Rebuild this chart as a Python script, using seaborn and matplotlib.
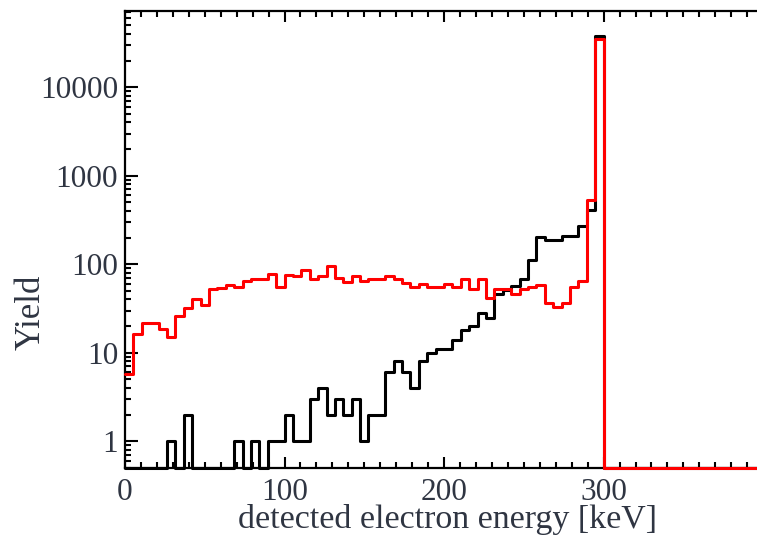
import numpy as np
import pandas as pd
import matplotlib
matplotlib.use("Agg")
import matplotlib.pyplot as plt
import seaborn as sns
from matplotlib.ticker import MultipleLocator, LogLocator, NullFormatter, FixedLocator, FixedFormatter

# ---- data: 76 bins of equal width spanning 0-400 keV ----
E_MIN, E_MAX, N_BINS = 0.0, 400.0, 76

red_counts = [5.8, 16.4, 21.5, 21.5, 18.5, 15, 26, 32, 40, 35,
              52, 54, 59, 55, 64, 68, 68, 77, 55, 76,
              73, 85, 68, 73, 96, 69, 63, 73, 65, 68,
              68, 73, 68, 61, 55, 60, 55, 55, 60, 56,
              68, 53, 68, 42, 53, 53, 46, 53, 56, 59,
              36, 33, 36, 56, 64, 530, 35000, 0, 0, 0,
              0, 0, 0, 0, 0, 0, 0, 0, 0, 0,
              0, 0, 0, 0, 0, 0]

black_counts = [0, 0, 0, 0, 0, 1, 0, 2, 0, 0,
                0, 0, 0, 1, 0, 1, 0, 1, 1, 2,
                1, 1, 3, 4, 2, 3, 2, 3, 1, 2,
                2, 6, 8, 6, 4, 8, 10, 11, 11, 14,
                18, 20, 28, 25, 46, 51, 57, 68, 112, 203,
                189, 189, 206, 206, 267, 405, 37500, 0, 0, 0,
                0, 0, 0, 0, 0, 0, 0, 0, 0, 0,
                0, 0, 0, 0, 0, 0]

y_tick_values = [1, 10, 100, 1000, 10000]
y_tick_labels = ["1", "10", "100", "1000", "10000"]
x_tick_values = [0, 100, 200, 300]
x_tick_labels = ["0", "100", "200", "300"]

Y_MIN, Y_MAX = 0.5, 7.3e4

edges = np.linspace(E_MIN, E_MAX, N_BINS + 1)
centers = 0.5 * (edges[:-1] + edges[1:])
df = pd.DataFrame({
    "energy": centers,
    "red": np.clip(np.asarray(red_counts, float), Y_MIN, None),
    "black": np.clip(np.asarray(black_counts, float), Y_MIN, None),
})

sns.set_theme(style="ticks")
plt.rcParams['font.family'] = ['Liberation Serif', 'DejaVu Serif']

fig = plt.figure(figsize=(7.57, 5.44), dpi=100)
ax = fig.add_axes([0.1651, 0.140, 0.843, 0.840])

sns.histplot(data=df, x="energy", weights="black", bins=N_BINS, binrange=(E_MIN, E_MAX),
             element="step", fill=False, color="black", linewidth=2.2, ax=ax,
             clip_on=False, zorder=3)
sns.histplot(data=df, x="energy", weights="red", bins=N_BINS, binrange=(E_MIN, E_MAX),
             element="step", fill=False, color="#ff0000", linewidth=2.2, ax=ax,
             clip_on=False, zorder=4)

ax.set_yscale("log")
ax.set_xlim(E_MIN, E_MAX)
ax.set_ylim(Y_MIN, Y_MAX)

text_color = "#2f3542"
ax.set_xlabel("detected electron energy [keV]", fontsize=24.5, color=text_color)
ax.set_ylabel("Yield", fontsize=25, color=text_color)
ax.xaxis.set_label_coords(0.505, -0.080)
ax.yaxis.set_label_coords(-0.122, 0.340)

ax.xaxis.set_major_locator(FixedLocator(x_tick_values))
ax.xaxis.set_major_formatter(FixedFormatter(x_tick_labels))
ax.xaxis.set_minor_locator(MultipleLocator(10))
ax.yaxis.set_major_locator(FixedLocator(y_tick_values))
ax.yaxis.set_major_formatter(FixedFormatter(y_tick_labels))
ax.yaxis.set_minor_locator(LogLocator(base=10, subs=np.arange(2, 10), numticks=20))
ax.yaxis.set_minor_formatter(NullFormatter())

ax.tick_params(which="both", direction="in", top=True, right=False,
               colors="black", labelcolor=text_color, labelsize=22.5, width=1.5)
ax.tick_params(axis="x", which="major", length=8, pad=7)
ax.tick_params(axis="x", which="minor", length=4)
ax.tick_params(axis="y", which="major", length=9, pad=5)
ax.tick_params(axis="y", which="minor", length=4.5)

for s in ax.spines.values():
    s.set_linewidth(1.6)
    s.set_color("black")
    s.set_visible(True)

fig.savefig("out.png", dpi=100)
